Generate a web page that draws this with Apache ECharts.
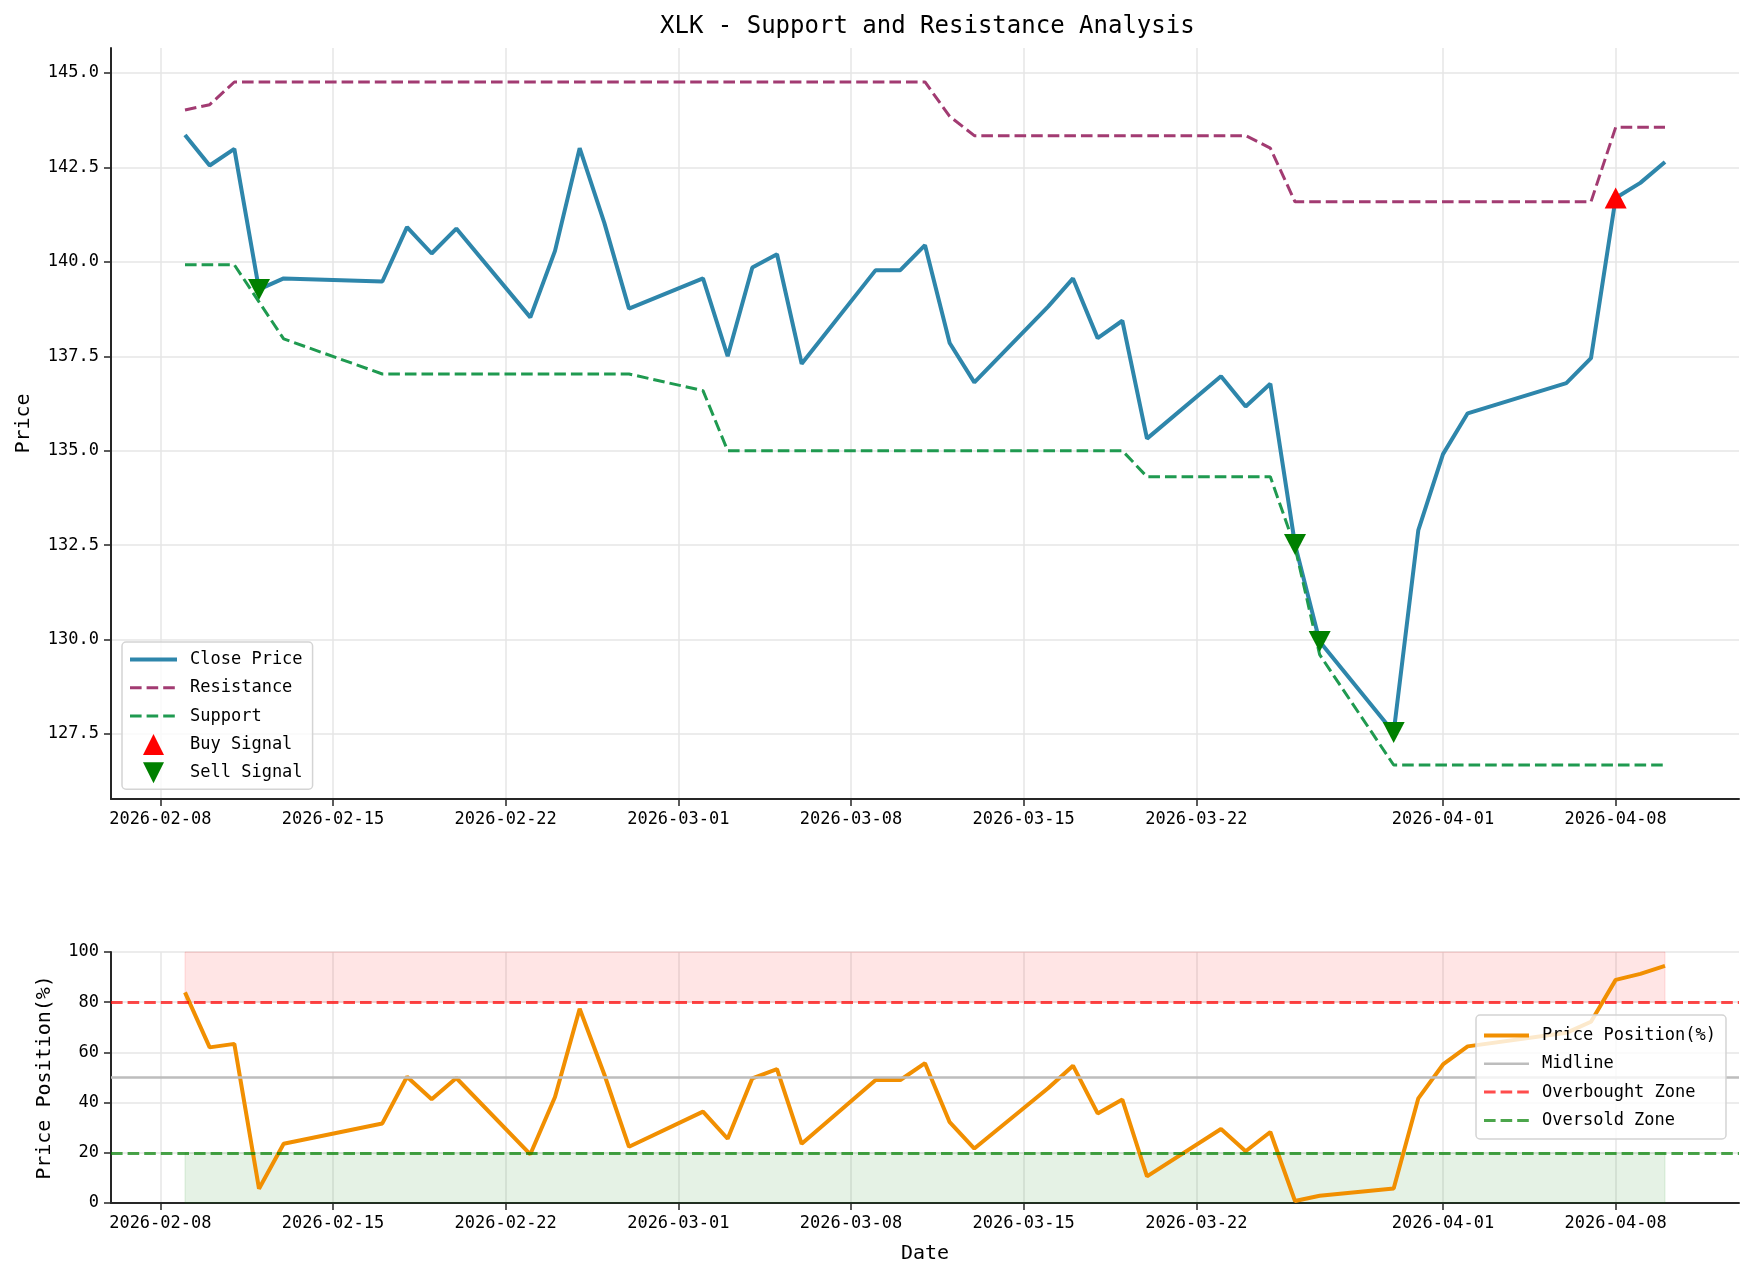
<!DOCTYPE html>
<html>
<head>
<meta charset="utf-8">
<title>XLK - Support and Resistance Analysis</title>
<script src="https://cdn.jsdelivr.net/npm/echarts@6/dist/echarts.min.js"></script>
<style>
  html, body { margin: 0; padding: 0; background: #fff; }
  #chart { width: 1753px; height: 1280px; }
</style>
</head>
<body>
<div id="chart"></div>
<script>
// trading days shown on the chart
var dates = [
  '2026-02-09', '2026-02-10', '2026-02-11', '2026-02-12', '2026-02-13',
  '2026-02-17', '2026-02-18', '2026-02-19', '2026-02-20',
  '2026-02-23', '2026-02-24', '2026-02-25', '2026-02-26', '2026-02-27',
  '2026-03-02', '2026-03-03', '2026-03-04', '2026-03-05', '2026-03-06',
  '2026-03-09', '2026-03-10', '2026-03-11', '2026-03-12', '2026-03-13',
  '2026-03-16', '2026-03-17', '2026-03-18', '2026-03-19', '2026-03-20',
  '2026-03-23', '2026-03-24', '2026-03-25', '2026-03-26', '2026-03-27',
  '2026-03-30', '2026-03-31', '2026-04-01', '2026-04-02',
  '2026-04-06', '2026-04-07', '2026-04-08', '2026-04-09', '2026-04-10'
];

var closePrice = [
  143.36, 142.55, 142.99, 139.27, 139.56,
  139.48, 140.92, 140.22, 140.88,
  138.53, 140.29, 143.01, 141.03, 138.76,
  139.56, 137.50, 139.85, 140.20, 137.30,
  139.78, 139.78, 140.44, 137.85, 136.81,
  138.82, 139.56, 137.98, 138.44, 135.32,
  136.97, 136.17, 136.77, 132.52, 129.95,
  127.54, 132.90, 134.91, 135.99,
  136.79, 137.45, 141.69, 142.09, 142.64
];

var resistance = [
  144.02, 144.16, 144.76, 144.76, 144.76,
  144.76, 144.76, 144.76, 144.76,
  144.76, 144.76, 144.76, 144.76, 144.76,
  144.76, 144.76, 144.76, 144.76, 144.76,
  144.76, 144.76, 144.76, 143.85, 143.34,
  143.34, 143.34, 143.34, 143.34, 143.34,
  143.34, 143.34, 143.01, 141.59, 141.59,
  141.59, 141.59, 141.59, 141.59,
  141.59, 141.59, 143.56, 143.56, 143.56
];

var support = [
  139.92, 139.92, 139.92, 138.94, 137.96,
  137.03, 137.03, 137.03, 137.03,
  137.03, 137.03, 137.03, 137.03, 137.03,
  136.59, 135.00, 135.00, 135.00, 135.00,
  135.00, 135.00, 135.00, 135.00, 135.00,
  135.00, 135.00, 135.00, 135.00, 134.31,
  134.31, 134.31, 134.31, 132.45, 129.60,
  126.68, 126.68, 126.68, 126.68,
  126.68, 126.68, 126.68, 126.68, 126.68
];

var pricePosition = [
  83.9, 62.0, 63.4, 5.7, 23.6,
  31.7, 50.3, 41.3, 49.8,
  19.4, 42.2, 77.4, 51.2, 22.4,
  36.4, 25.6, 49.7, 53.3, 23.6,
  49.0, 49.0, 55.7, 32.2, 21.7,
  45.8, 54.7, 35.7, 41.2, 10.6,
  29.5, 20.6, 28.3, 0.8, 2.9,
  5.8, 41.7, 55.2, 62.4,
  67.8, 72.2, 88.9, 91.3, 94.5
];

var buyDates = ['2026-04-08'];
var sellDates = ['2026-02-12', '2026-03-26', '2026-03-27', '2026-03-30'];

var dateTicks = [
  '2026-02-08', '2026-02-15', '2026-02-22', '2026-03-01', '2026-03-08',
  '2026-03-15', '2026-03-22', '2026-04-01', '2026-04-08'
];
var priceTicks = [127.5, 130.0, 132.5, 135.0, 137.5, 140.0, 142.5, 145.0];
var priceRange = [125.78, 145.66];
var dateRange = ['2026-02-06', '2026-04-13'];

var midline = 50;
var overbought = 80;
var oversold = 20;

// x positions are day numbers counted from the first tick date
var BASE = Date.UTC(2026, 1, 8);
function dayNum(s) {
  var p = s.split('-').map(Number);
  return (Date.UTC(p[0], p[1] - 1, p[2]) - BASE) / 86400000;
}

var tickDays = dateTicks.map(dayNum);
var tickLabel = {};
dateTicks.forEach(function (d, i) { tickLabel[tickDays[i]] = d; });

function pairs(values) {
  return dates.map(function (d, i) { return [dayNum(d), values[i]]; });
}
function signalPoints(list) {
  return list.map(function (d) { return [dayNum(d), closePrice[dates.indexOf(d)]]; });
}

var FONT = 'DejaVu Sans Mono';
var AXIS_COLOR = '#262626';
var GRID_COLOR = '#e6e6e6';
var DASH = [11.6, 5];

var upIcon = 'path://M0,0L0,0ZM47,21L47,21ZM23.5,0L34,21L13,21Z';
var downIcon = 'path://M0,0L0,0ZM47,21L47,21ZM13,0L34,0L23.5,21Z';

// legend entry for a plain line: hide the default circle marker
function lineEntry(name, width) {
  return { name: name, itemStyle: { opacity: 0 }, lineStyle: { width: width } };
}

function xAxisFor(gridIndex, withName) {
  return {
    type: 'value',
    gridIndex: gridIndex,
    min: dayNum(dateRange[0]),
    max: dayNum(dateRange[1]),
    name: withName ? 'Date' : '',
    nameLocation: 'middle',
    nameGap: 41,
    nameTextStyle: { fontFamily: FONT, fontSize: 20, color: '#000' },
    axisLine: { show: true, onZero: false, lineStyle: { color: AXIS_COLOR, width: 2 } },
    axisTick: { show: true, length: 7, customValues: tickDays, lineStyle: { color: AXIS_COLOR, width: 1.5 } },
    axisLabel: {
      customValues: tickDays,
      margin: 12,
      fontFamily: FONT, fontSize: 17, color: '#000',
      formatter: function (v) { return tickLabel[v] || ''; }
    },
    splitLine: { show: true, lineStyle: { color: GRID_COLOR, width: 1.5 } }
  };
}

var legendBase = {
  orient: 'vertical',
  itemHeight: 21,
  borderColor: '#d4d4d4',
  borderWidth: 1.5,
  borderRadius: 4,
  backgroundColor: 'rgba(255,255,255,0.8)',
  selectedMode: false,
  textStyle: { fontFamily: FONT, fontSize: 17, lineHeight: 21, color: '#000', padding: [0, 0, 0, 8] }
};

var option = {
  animation: false,
  backgroundColor: '#fff',
  title: {
    text: 'XLK - Support and Resistance Analysis',
    left: 655,
    top: 10,
    textStyle: { fontFamily: FONT, fontSize: 24, fontWeight: 'normal', color: '#000' }
  },
  legend: [
    Object.assign({}, legendBase, {
      data: [
        lineEntry('Close Price', 4),
        lineEntry('Resistance', 3),
        lineEntry('Support', 3),
        { name: 'Buy Signal', icon: upIcon },
        { name: 'Sell Signal', icon: downIcon }
      ],
      left: 122,
      top: 642,
      itemWidth: 47,
      itemGap: 7.3,
      padding: [7, 10, 6, 6]
    }),
    Object.assign({}, legendBase, {
      data: [
        lineEntry('Price Position(%)', 4),
        lineEntry('Midline', 2.5),
        lineEntry('Overbought Zone', 3),
        lineEntry('Oversold Zone', 3)
      ],
      left: 1476,
      top: 1015,
      itemWidth: 45,
      itemGap: 7.3,
      padding: [10, 10, 8, 6],
      z: 10
    })
  ],
  grid: [
    { left: 111, top: 48, width: 1628, height: 751 },
    { left: 111, top: 952, width: 1628, height: 251 }
  ],
  xAxis: [xAxisFor(0, false), xAxisFor(1, true)],
  yAxis: [
    {
      type: 'value',
      gridIndex: 0,
      min: priceRange[0],
      max: priceRange[1],
      name: 'Price',
      nameLocation: 'middle',
      nameGap: 77,
      nameTextStyle: { fontFamily: FONT, fontSize: 20, color: '#000' },
      axisLine: { show: true, onZero: false, lineStyle: { color: AXIS_COLOR, width: 2 } },
      axisTick: { show: true, length: 7, customValues: priceTicks, lineStyle: { color: AXIS_COLOR, width: 1.5 } },
      axisLabel: {
        customValues: priceTicks,
        margin: 12,
        fontFamily: FONT, fontSize: 17, color: '#000',
        formatter: function (v) { return v.toFixed(1); }
      },
      splitLine: { show: true, lineStyle: { color: GRID_COLOR, width: 1.5 } }
    },
    {
      type: 'value',
      gridIndex: 1,
      min: 0,
      max: 100,
      interval: 20,
      name: 'Price Position(%)',
      nameLocation: 'middle',
      nameGap: 56,
      nameTextStyle: { fontFamily: FONT, fontSize: 20, color: '#000' },
      axisLine: { show: true, onZero: false, lineStyle: { color: AXIS_COLOR, width: 2 } },
      axisTick: { show: true, length: 7, lineStyle: { color: AXIS_COLOR, width: 1.5 } },
      axisLabel: { margin: 12, fontFamily: FONT, fontSize: 17, color: '#000' },
      splitLine: { show: true, lineStyle: { color: GRID_COLOR, width: 1.5 } }
    }
  ],
  series: [
    {
      name: 'Close Price',
      type: 'line',
      data: pairs(closePrice),
      symbol: 'none',
      z: 2,
      itemStyle: { color: '#2E86AB' },
      lineStyle: { color: '#2E86AB', width: 4 }
    },
    {
      name: 'Resistance',
      type: 'line',
      data: pairs(resistance),
      symbol: 'none',
      z: 3,
      itemStyle: { color: '#A23B72' },
      lineStyle: { color: '#A23B72', width: 3, type: DASH }
    },
    {
      name: 'Support',
      type: 'line',
      data: pairs(support),
      symbol: 'none',
      z: 3,
      itemStyle: { color: '#1f9a50' },
      lineStyle: { color: '#1f9a50', width: 3, type: DASH }
    },
    {
      name: 'Buy Signal',
      type: 'scatter',
      data: signalPoints(buyDates),
      symbol: 'triangle',
      symbolSize: [22, 21],
      z: 5,
      itemStyle: { color: '#ff0000', opacity: 1 }
    },
    {
      name: 'Sell Signal',
      type: 'scatter',
      data: signalPoints(sellDates),
      symbol: 'path://M0,0L2,0L1,2Z',
      symbolSize: [22, 21],
      z: 5,
      itemStyle: { color: '#008000', opacity: 1 }
    },
    {
      name: 'Price Position(%)',
      type: 'line',
      xAxisIndex: 1,
      yAxisIndex: 1,
      data: pairs(pricePosition),
      symbol: 'none',
      z: 4,
      itemStyle: { color: '#F18F01' },
      lineStyle: { color: '#F18F01', width: 4 }
    },
    {
      name: 'Midline',
      type: 'line',
      xAxisIndex: 1,
      yAxisIndex: 1,
      data: [],
      symbol: 'none',
      z: 2,
      itemStyle: { color: '#bdbdbd' },
      lineStyle: { color: '#bdbdbd', width: 2.5 },
      markLine: {
        silent: true,
        symbol: 'none',
        label: { show: false },
        lineStyle: { color: '#bdbdbd', width: 2.5, type: 'solid' },
        data: [{ yAxis: midline }]
      }
    },
    {
      name: 'Overbought Zone',
      type: 'line',
      xAxisIndex: 1,
      yAxisIndex: 1,
      data: [],
      symbol: 'none',
      z: 2,
      itemStyle: { color: 'rgba(255,0,0,0.7)' },
      lineStyle: { color: 'rgba(255,0,0,0.7)', width: 3, type: DASH },
      markLine: {
        silent: true,
        symbol: 'none',
        label: { show: false },
        lineStyle: { color: 'rgba(255,0,0,0.7)', width: 3, type: DASH },
        data: [{ yAxis: overbought }]
      },
      markArea: {
        silent: true,
        itemStyle: { color: 'rgba(255,0,0,0.1)', borderColor: 'rgba(255,0,0,0.12)', borderWidth: 1 },
        data: [[
          { xAxis: dayNum(dates[0]), yAxis: overbought },
          { xAxis: dayNum(dates[dates.length - 1]), yAxis: 100 }
        ]]
      }
    },
    {
      name: 'Oversold Zone',
      type: 'line',
      xAxisIndex: 1,
      yAxisIndex: 1,
      data: [],
      symbol: 'none',
      z: 2,
      itemStyle: { color: 'rgba(0,128,0,0.7)' },
      lineStyle: { color: 'rgba(0,128,0,0.7)', width: 3, type: DASH },
      markLine: {
        silent: true,
        symbol: 'none',
        label: { show: false },
        lineStyle: { color: 'rgba(0,128,0,0.7)', width: 3, type: DASH },
        data: [{ yAxis: oversold }]
      },
      markArea: {
        silent: true,
        itemStyle: { color: 'rgba(0,128,0,0.1)', borderColor: 'rgba(0,128,0,0.12)', borderWidth: 1 },
        data: [[
          { xAxis: dayNum(dates[0]), yAxis: 0 },
          { xAxis: dayNum(dates[dates.length - 1]), yAxis: oversold }
        ]]
      }
    }
  ]
};

var chart = echarts.init(document.getElementById('chart'), null, { renderer: 'canvas' });
chart.setOption(option);
</script>
</body>
</html>
